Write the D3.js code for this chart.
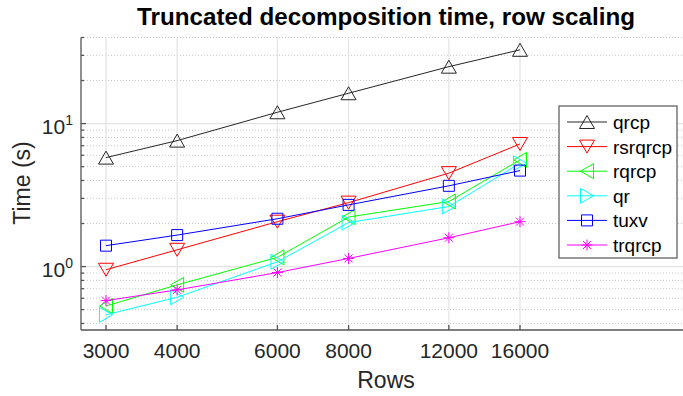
<!DOCTYPE html>
<html>
<head>
<meta charset="utf-8">
<script src="https://cdn.jsdelivr.net/npm/d3@7"></script>
<style>
  body { margin: 0; background: #fff; }
  svg { display: block; font-family: "Liberation Sans", Arial, sans-serif; }
</style>
</head>
<body>
<svg width="683" height="396"></svg>
<script>
// data (log-log)
const rows = [3000, 4000, 6000, 8000, 12000, 16000];
const qrcp    = [5.78, 7.6, 12.0, 16.3, 25.0, 32.8];
const rsrqrcp = [0.95, 1.31, 2.06, 2.8, 4.5, 7.2];
const rqrcp   = [0.53, 0.745, 1.16, 2.22, 2.85, 5.57];
const qr      = [0.46, 0.61, 1.08, 2.03, 2.63, 5.28];
const tuxv    = [1.40, 1.66, 2.16, 2.70, 3.67, 4.69];
const trqrcp  = [0.578, 0.687, 0.908, 1.14, 1.59, 2.06];

const seriesNames = ['qrcp', 'rsrqrcp', 'rqrcp', 'qr', 'tuxv', 'trqrcp'];
const seriesValues = [qrcp, rsrqrcp, rqrcp, qr, tuxv, trqrcp];
const seriesColors = ['#262626', '#ff0000', '#00ff00', '#00ffff', '#0000ff', '#ff00ff'];
const seriesMarkers = ['up', 'down', 'left', 'right', 'square', 'star'];

const yMajor = [1, 10];
const yMinor = [0.4, 0.5, 0.6, 0.7, 0.8, 0.9, 2, 3, 4, 5, 6, 7, 8, 9, 20, 30, 40];

const svg = d3.select('svg');

const plotLeft = 81, plotRight = 691, plotTop = 37.5, plotBottom = 330;

const x = d3.scaleLog().domain([3000, 16000]).range([106, 520]);
const y = d3.scaleLog().domain([0.36, 40]).range([plotBottom, plotTop]);

// grid
const grid = svg.append('g');
grid.selectAll('.ymin').data(yMinor).join('line')
  .attr('x1', plotLeft).attr('x2', plotRight)
  .attr('y1', d => y(d)).attr('y2', d => y(d))
  .attr('stroke', '#c8c8c8').attr('stroke-width', 1)
  .attr('stroke-dasharray', '1,2');
grid.selectAll('.ymaj').data(yMajor).join('line')
  .attr('x1', plotLeft).attr('x2', plotRight)
  .attr('y1', d => y(d)).attr('y2', d => y(d))
  .attr('stroke', '#e3e3e3').attr('stroke-width', 1.2);
grid.selectAll('.xmaj').data(rows).join('line')
  .attr('x1', d => x(d)).attr('x2', d => x(d))
  .attr('y1', plotTop).attr('y2', plotBottom)
  .attr('stroke', '#e3e3e3').attr('stroke-width', 1.2);

// axes
const ax = svg.append('g').attr('stroke', '#555').attr('stroke-width', 1.3);
ax.append('line').attr('x1', plotLeft).attr('x2', plotLeft).attr('y1', plotTop).attr('y2', plotBottom);
ax.append('line').attr('x1', plotLeft).attr('x2', plotRight).attr('y1', plotBottom).attr('y2', plotBottom);
ax.selectAll('.xt').data(rows).join('line')
  .attr('x1', d => x(d)).attr('x2', d => x(d))
  .attr('y1', plotBottom).attr('y2', plotBottom - 5);
ax.selectAll('.yt').data(yMajor).join('line')
  .attr('x1', plotLeft).attr('x2', plotLeft + 5)
  .attr('y1', d => y(d)).attr('y2', d => y(d));
ax.selectAll('.ytm').data(yMinor).join('line')
  .attr('x1', plotLeft).attr('x2', plotLeft + 3)
  .attr('y1', d => y(d)).attr('y2', d => y(d));

// tick labels
svg.selectAll('.xl').data(rows).join('text')
  .attr('x', d => x(d)).attr('y', 358)
  .attr('text-anchor', 'middle')
  .attr('font-size', 21).attr('fill', '#262626')
  .text(d => d);

const yl = svg.selectAll('.yl').data(yMajor).join('text')
  .attr('x', 73).attr('y', d => y(d) + 10)
  .attr('text-anchor', 'end')
  .attr('font-size', 21).attr('fill', '#262626');
yl.append('tspan').text('10');
yl.append('tspan').attr('font-size', 14).attr('dy', -9)
  .text(d => Math.round(Math.log10(d)));

// axis titles
svg.append('text').attr('x', 386).attr('y', 388)
  .attr('text-anchor', 'middle').attr('font-size', 23).attr('fill', '#262626')
  .text('Rows');
svg.append('text').attr('transform', 'translate(30,183) rotate(-90)')
  .attr('text-anchor', 'middle').attr('font-size', 23).attr('fill', '#262626')
  .text('Time (s)');

svg.append('text').attr('x', 386).attr('y', 25)
  .attr('text-anchor', 'middle').attr('font-size', 23).attr('font-weight', 'bold')
  .attr('fill', '#000')
  .attr('textLength', 498).attr('lengthAdjust', 'spacingAndGlyphs')
  .text('Truncated decomposition time, row scaling');

// markers
function markerPath(type) {
  switch (type) {
    case 'up': return 'M0,-6.5L7.5,6.5L-7.5,6.5Z';
    case 'down': return 'M0,6.5L7.5,-6.5L-7.5,-6.5Z';
    case 'left': return 'M-6.5,0L6.5,-7.5L6.5,7.5Z';
    case 'right': return 'M6.5,0L-6.5,-7.5L-6.5,7.5Z';
    case 'square': return 'M-5.5,-5.5H5.5V5.5H-5.5Z';
    case 'star': return 'M-5.5,0H5.5M0,-5.5V5.5M-4,-4L4,4M-4,4L4,-4';
  }
}

const line = d3.line().x((d, i) => x(rows[i])).y(d => y(d));

const plot = svg.append('g');
seriesValues.forEach((vals, k) => {
  const g = plot.append('g');
  g.append('path').datum(vals).attr('d', line)
    .attr('fill', 'none').attr('stroke', seriesColors[k]).attr('stroke-width', 1);
  g.selectAll('path.m').data(vals).join('path')
    .attr('class', 'm')
    .attr('transform', (d, i) => `translate(${x(rows[i])},${y(d)})`)
    .attr('d', markerPath(seriesMarkers[k]))
    .attr('fill', 'none').attr('stroke', seriesColors[k]).attr('stroke-width', 1);
});

// legend
const lg = svg.append('g');
lg.append('rect').attr('x', 559).attr('y', 106).attr('width', 118).attr('height', 152)
  .attr('fill', '#fff').attr('stroke', '#555').attr('stroke-width', 1.2);
seriesNames.forEach((name, k) => {
  const ly = 122 + k * 24.6;
  lg.append('line').attr('x1', 567).attr('x2', 607).attr('y1', ly).attr('y2', ly)
    .attr('stroke', seriesColors[k]).attr('stroke-width', 1);
  lg.append('path').attr('transform', `translate(587,${ly})`)
    .attr('d', markerPath(seriesMarkers[k]))
    .attr('fill', 'none').attr('stroke', seriesColors[k]).attr('stroke-width', 1);
  lg.append('text').attr('x', 613).attr('y', ly + 7)
    .attr('font-size', 19).attr('fill', '#000').text(name);
});
</script>
</body>
</html>
